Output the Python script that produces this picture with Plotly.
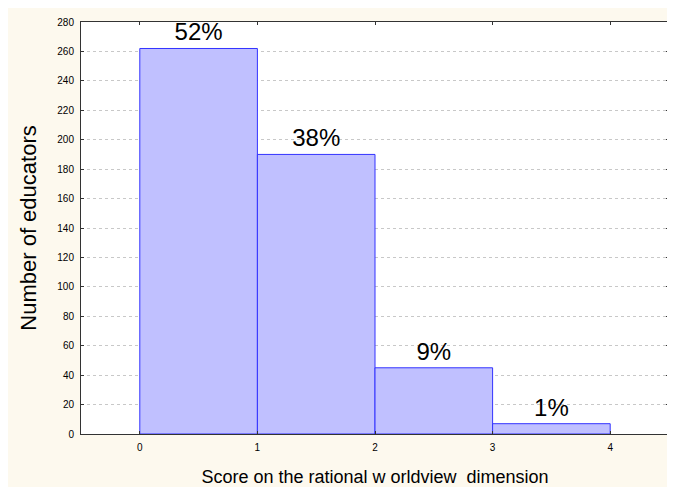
import plotly.graph_objects as go

bin_centers = [0.5, 1.5, 2.5, 3.5]
counts = [262, 190, 45, 7]
pct_labels = ["52%", "38%", "9%", "1%"]
x_ticks = [0, 1, 2, 3, 4]
y_ticks = list(range(0, 281, 20))

fig = go.Figure()
fig.add_trace(go.Bar(
    x=bin_centers, y=counts, width=1,
    marker=dict(color="#C0C0FF", line=dict(color="#3333FF", width=1)),
    text=pct_labels, textposition="outside",
    textfont=dict(family="Liberation Sans, Arial", size=24, color="black"),
    cliponaxis=False,
))

# page body adds an 8px offset, so the figure is sized accordingly
W, H = 667, 479
L, R, T, B = 73, 6, 14, 53

fig.update_layout(
    width=W, height=H,
    margin=dict(l=L, r=R, t=T, b=B),
    paper_bgcolor="#FDF9EE",
    plot_bgcolor="white",
    showlegend=False,
    font=dict(family="Liberation Sans, Arial", color="black"),
    xaxis=dict(
        range=[-0.5, 4.5], tickvals=x_ticks, ticktext=[str(v) for v in x_ticks],
        tickfont=dict(size=10), showgrid=False, zeroline=False, automargin=False,
        showline=True, linecolor="#333333", linewidth=1, mirror="allticks",
        ticks="inside", ticklen=3, tickcolor="#333333", ticklabelstandoff=4,
        title=dict(text="Score on the rational w orldview  dimension",
                   font=dict(size=18), standoff=19),
    ),
    yaxis=dict(
        range=[0, 280], tickvals=y_ticks,
        tickfont=dict(size=10), showgrid=True, gridcolor="#C8C8C8",
        griddash="dot", gridwidth=1, zeroline=False, automargin=False,
        showline=True, linecolor="#333333", linewidth=1, mirror="allticks",
        ticks="inside", ticklen=3, tickcolor="#333333", ticklabelstandoff=4,
        title=dict(text="Number of educators", font=dict(size=22), standoff=14),
    ),
)

fig.write_html("out.html")
